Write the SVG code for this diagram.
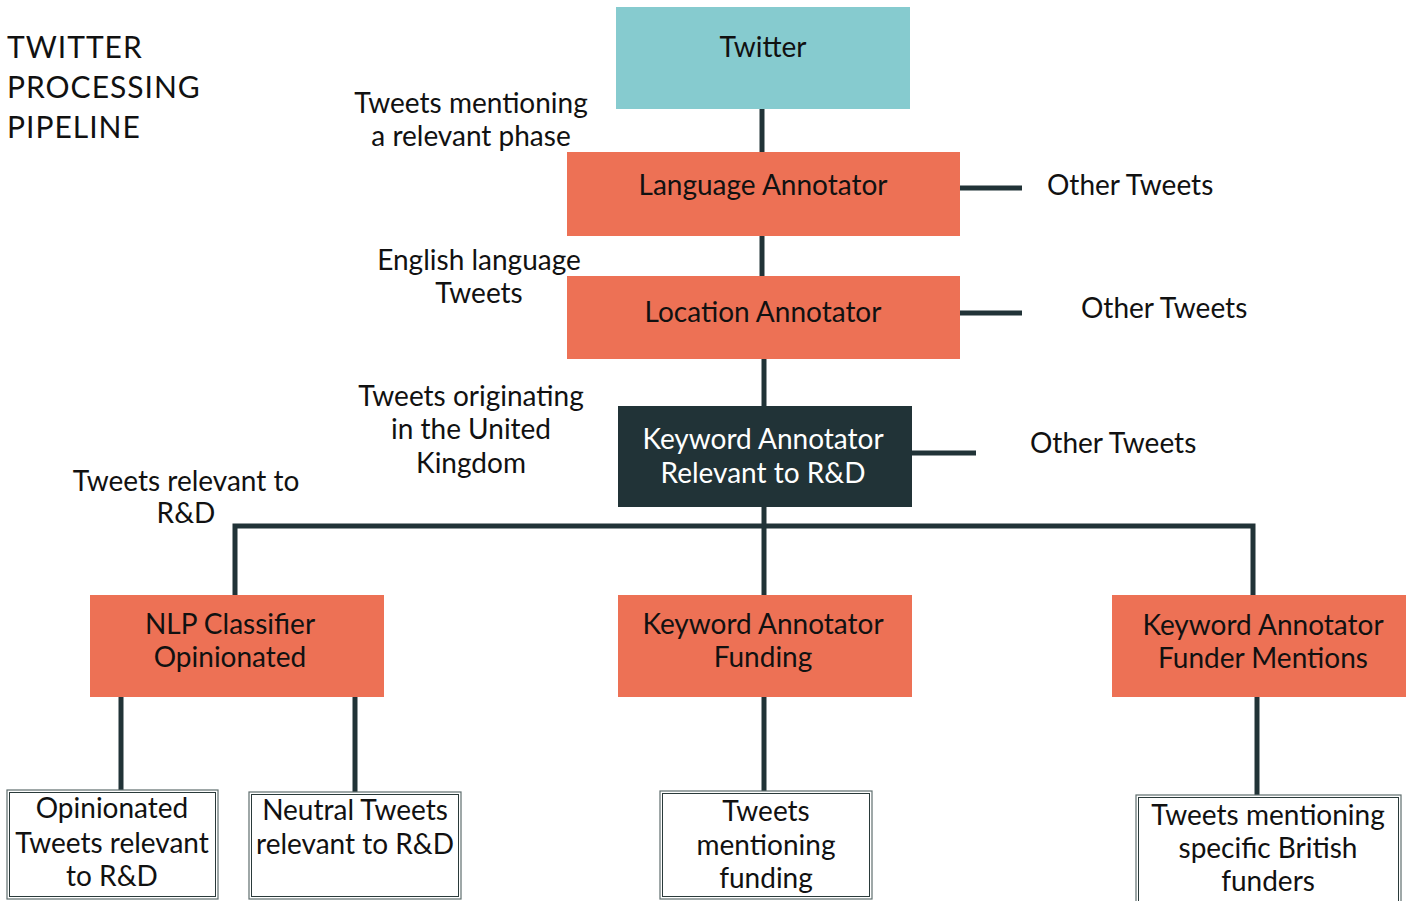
<svg xmlns="http://www.w3.org/2000/svg" width="1410" height="901" viewBox="0 0 1410 901">
<style>
text{font-family:Lato,"Liberation Sans",sans-serif;font-size:28px;fill:#111;}
.t{font-size:30px;letter-spacing:1px;}
.c{text-anchor:middle;}
.w{fill:#fff;}
.teal{fill:#86cbcf;}
.org{fill:#ed7155;}
.dark{fill:#213337;}
.con{stroke:#213337;stroke-width:5;fill:none;}
.ob{fill:#fff;stroke:#5f6e6e;stroke-width:1.2;}
.ib{fill:none;stroke:#2a3a3a;stroke-width:1;}
</style>
<rect width="1410" height="901" fill="#fff"/>
<g id="title">
<text class="t" x="7" y="58">TWITTER</text>
<text class="t" x="7" y="98">PROCESSING</text>
<text class="t" x="7" y="138">PIPELINE</text>
</g>
<g id="connectors">
<path class="con" d="M762 109V152"/>
<path class="con" d="M762 236V276"/>
<path class="con" d="M764 359V406"/>
<path class="con" d="M764 507V595"/>
<path class="con" d="M235 595V526H1253V595"/>
<path class="con" d="M960 188H1022"/>
<path class="con" d="M960 313H1022"/>
<path class="con" d="M912 453H976"/>
<path class="con" d="M121 697V790"/>
<path class="con" d="M355 697V792"/>
<path class="con" d="M764 697V791"/>
<path class="con" d="M1257 697V795"/>
</g>
<g id="labels">
<text class="c" x="471" y="113">Tweets mentioning</text>
<text class="c" x="471" y="146">a relevant phase</text>
<text class="c" x="479" y="270">English language</text>
<text class="c" x="479" y="303">Tweets</text>
<text class="c" x="471" y="406">Tweets originating</text>
<text class="c" x="471" y="439">in the United</text>
<text class="c" x="471" y="473">Kingdom</text>
<text class="c" x="186" y="491">Tweets relevant to</text>
<text class="c" x="186" y="523">R&amp;D</text>
<text x="1047" y="195">Other Tweets</text>
<text x="1081" y="318">Other Tweets</text>
<text x="1030" y="453">Other Tweets</text>
</g>
<g id="twitter">
<rect class="teal" x="616" y="7" width="294" height="102"/>
<text class="c" x="763" y="57">Twitter</text>
</g>
<g id="language">
<rect class="org" x="567" y="152" width="393" height="84"/>
<text class="c" x="763" y="195">Language Annotator</text>
</g>
<g id="location">
<rect class="org" x="567" y="276" width="393" height="83"/>
<text class="c" x="763" y="322">Location Annotator</text>
</g>
<g id="keyword-rd">
<rect class="dark" x="618" y="406" width="294" height="101"/>
<text class="c w" x="763" y="449">Keyword Annotator</text>
<text class="c w" x="763" y="483">Relevant to R&amp;D</text>
</g>
<g id="nlp">
<rect class="org" x="90" y="595" width="294" height="102"/>
<text class="c" x="230" y="634">NLP Classifier</text>
<text class="c" x="230" y="667">Opinionated</text>
</g>
<g id="funding">
<rect class="org" x="618" y="595" width="294" height="102"/>
<text class="c" x="763" y="634">Keyword Annotator</text>
<text class="c" x="763" y="667">Funding</text>
</g>
<g id="funder">
<rect class="org" x="1112" y="595" width="294" height="102"/>
<text class="c" x="1263" y="635">Keyword Annotator</text>
<text class="c" x="1263" y="668">Funder Mentions</text>
</g>
<g id="out-opinionated">
<rect class="ob" x="7" y="790" width="211" height="109"/>
<rect class="ib" x="9.5" y="792.5" width="206" height="104"/>
<text class="c" x="112" y="818">Opinionated</text>
<text class="c" x="112" y="853">Tweets relevant</text>
<text class="c" x="112" y="886">to R&amp;D</text>
</g>
<g id="out-neutral">
<rect class="ob" x="249" y="792" width="212" height="107"/>
<rect class="ib" x="251.5" y="794.5" width="207" height="102"/>
<text class="c" x="355" y="820">Neutral Tweets</text>
<text class="c" x="355" y="854">relevant to R&amp;D</text>
</g>
<g id="out-funding">
<rect class="ob" x="660" y="791" width="212" height="108"/>
<rect class="ib" x="662.5" y="793.5" width="207" height="103"/>
<text class="c" x="766" y="821">Tweets</text>
<text class="c" x="766" y="855">mentioning</text>
<text class="c" x="766" y="888">funding</text>
</g>
<g id="out-funders">
<rect class="ob" x="1136" y="795" width="265" height="120"/>
<rect class="ib" x="1138.5" y="797.5" width="260" height="115"/>
<text class="c" x="1268" y="825">Tweets mentioning</text>
<text class="c" x="1268" y="858">specific British</text>
<text class="c" x="1268" y="891">funders</text>
</g>
</svg>
